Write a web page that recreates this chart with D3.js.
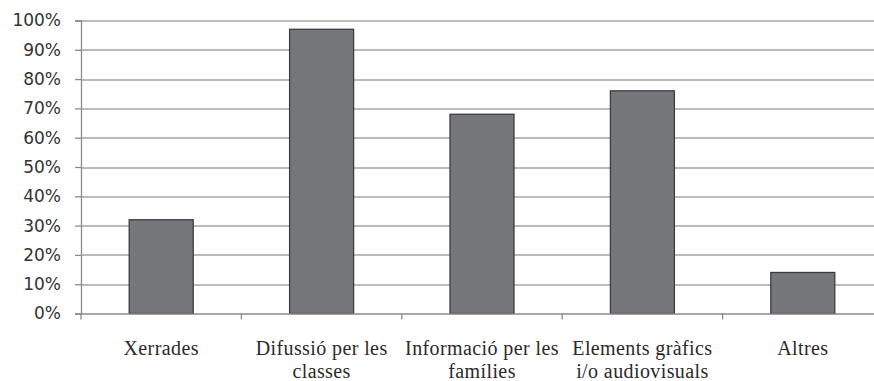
<!DOCTYPE html>
<html>
<head>
<meta charset="utf-8">
<script src="https://cdn.jsdelivr.net/npm/d3@7"></script>
<style>
  html, body { margin: 0; padding: 0; background: #fff; overflow: hidden; }
  svg { display: block; }
</style>
</head>
<body>
<div id="chart"></div>
<script>
const categories = ['Xerrades', 'Difussió per les classes', 'Informació per les famílies', 'Elements gràfics i/o audiovisuals', 'Altres'];
const labelLines = [['Xerrades'], ['Difussió per les', 'classes'], ['Informació per les', 'famílies'], ['Elements gràfics', 'i/o audiovisuals'], ['Altres']];
const values = [32, 97, 68, 76, 14];
const yTicks = [0, 10, 20, 30, 40, 50, 60, 70, 80, 90, 100];

(function(){
  const width = 874, height = 381;
  const margin = {top: 20.5, left: 81, bottom: 67.5};
  const innerH = height - margin.top - margin.bottom;
  const innerW = 802; // plot runs past the right edge, as in the source

  const svg = d3.select('#chart').append('svg')
    .attr('width', width)
    .attr('height', height);
  const g = svg.append('g')
    .attr('transform', `translate(${margin.left},${margin.top})`);

  const x = d3.scaleBand().domain(categories).range([0, innerW]).paddingInner(0).paddingOuter(0);
  const y = d3.scaleLinear().domain([0, 100]).range([innerH, 0]);

  // gridlines
  g.selectAll('line.grid').data(yTicks.slice(1)).enter().append('line')
    .attr('class', 'grid')
    .attr('x1', 0).attr('x2', innerW)
    .attr('y1', d => Math.round(y(d)) + 0.5).attr('y2', d => Math.round(y(d)) + 0.5)
    .attr('stroke', '#a3a3a3')
    .attr('stroke-width', 1.5);

  // bars
  const barW = 64;
  g.selectAll('rect.bar').data(values).enter().append('rect')
    .attr('class', 'bar')
    .attr('x', (d, i) => x(categories[i]) + x.bandwidth() / 2 - barW / 2)
    .attr('y', d => y(d))
    .attr('width', barW)
    .attr('height', d => innerH - y(d))
    .attr('fill', '#76777a')
    .attr('stroke', '#3c3c3e')
    .attr('stroke-width', 1.3);

  // y axis
  const yAxis = g.append('g')
    .call(d3.axisLeft(y).tickValues(yTicks).tickSize(6).tickPadding(14).tickFormat(d => d + '%'));
  yAxis.select('.domain').attr('stroke', '#8a8a8a').attr('stroke-width', 1.3);
  yAxis.selectAll('.tick line').attr('stroke', '#8a8a8a').attr('stroke-width', 1.3);
  yAxis.selectAll('.tick text')
    .attr('fill', '#333')
    .style('font-family', '"DejaVu Sans", Verdana, sans-serif')
    .style('font-size', '17px');

  // x axis
  const xAxis = g.append('g')
    .attr('transform', `translate(0,${innerH})`)
    .call(d3.axisBottom(x).tickSize(0).tickFormat(''));
  xAxis.select('.domain').attr('stroke', '#8a8a8a').attr('stroke-width', 1.3);
  xAxis.selectAll('.tick').remove();
  const bounds = categories.map(c => x(c)).concat([x(categories[categories.length - 1]) + x.bandwidth()]);
  xAxis.selectAll('line.sep').data(bounds).enter().append('line')
    .attr('class', 'sep')
    .attr('x1', d => d).attr('x2', d => d)
    .attr('y1', 0).attr('y2', 6)
    .attr('stroke', '#8a8a8a').attr('stroke-width', 1.3);

  // category labels
  const labels = g.append('g').selectAll('text').data(categories).enter().append('text')
    .attr('x', d => x(d) + x.bandwidth() / 2)
    .attr('y', innerH + 41)
    .attr('text-anchor', 'middle')
    .attr('fill', '#2a2a2a')
    .style('font-family', '"Liberation Serif", "Times New Roman", serif')
    .style('font-size', '20px')
    .style('letter-spacing', '0.4px');
  labels.each(function(d, i){
    const t = d3.select(this);
    labelLines[i].forEach((ln, j) => {
      t.append('tspan')
        .attr('x', x(d) + x.bandwidth() / 2)
        .attr('dy', j === 0 ? 0 : 23)
        .text(ln);
    });
  });
})();
</script>
</body>
</html>
